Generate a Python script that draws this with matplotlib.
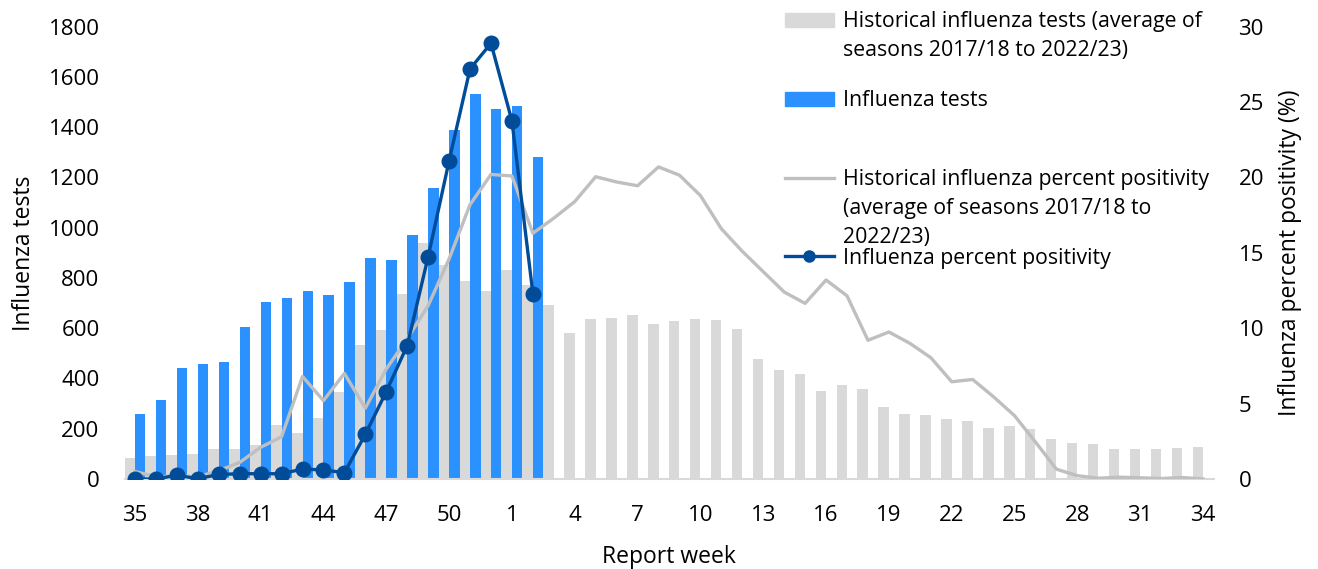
import matplotlib
matplotlib.use("Agg")
import matplotlib.pyplot as plt
from matplotlib.patches import Patch
from matplotlib.lines import Line2D
import numpy as np

plt.rcParams["font.family"] = ["Open Sans", "DejaVu Sans"]
plt.rcParams["font.size"] = 16

# report weeks: 35..52 then 1..34
weeks = list(range(35, 53)) + list(range(1, 35))

# current season (weeks 35 to 2)
tests = [257, 314, 442, 458, 464, 606, 706, 720, 748, 732,
         784, 880, 871, 971, 1157, 1388, 1531, 1471, 1483, 1283]
positivity = [0.0, 0.0, 0.25, 0.02, 0.3, 0.35, 0.35, 0.35, 0.66, 0.6,
              0.42, 2.96, 5.8, 8.85, 14.75, 21.1, 27.2, 28.9, 23.75, 12.3]

# historical average 2017/18 to 2022/23
hist_tests = [83, 92, 95, 98, 119, 119, 135, 215, 182, 244,
              346, 533, 593, 735, 940, 852, 788, 747, 832, 772,
              692, 582, 637, 641, 651, 615, 630, 637, 633, 598,
              476, 432, 417, 350, 373, 358, 288, 260, 253, 238,
              232, 203, 212, 199, 159, 144, 139, 121, 121, 118,
              125, 129]
hist_positivity = [0.5, 0.15, 0.2, 0.15, 0.55, 1.1, 2.1, 2.8, 6.8, 5.2,
                   7.0, 4.7, 7.3, 9.3, 11.5, 14.6, 18.2, 20.2, 20.1, 16.3,
                   17.3, 18.4, 20.05, 19.7, 19.45, 20.7, 20.15, 18.8, 16.6, 15.1,
                   13.75, 12.4, 11.65, 13.2, 12.15, 9.2, 9.75, 9.0, 8.05, 6.45,
                   6.6, 5.45, 4.2, 2.45, 0.65, 0.22, 0.05, 0.12, 0.08, 0.03,
                   0.1, 0.0]

BLUE = "#2B91FF"
DARK = "#004C99"
GREY_BAR = "#D9D9D9"
GREY_LINE = "#BFBFBF"

W, H = 1318, 569
fig = plt.figure(figsize=(W / 100, H / 100), dpi=100)
ax = fig.add_axes([124.5 / W, 90 / H, (1213.5 - 124.5) / W, (479 - 26.7) / H])

x = np.arange(len(weeks))
xc = np.arange(len(tests))
w = 0.5
ax.bar(x - w / 2, hist_tests, width=w, color=GREY_BAR, zorder=1)
ax.bar(xc + w / 2, tests, width=w, color=BLUE, zorder=2)

ax.set_xlim(-0.5, len(weeks) - 0.5)
ax.set_ylim(0, 1800)
ax.set_yticks(range(0, 1801, 200))
ax.set_xticks(x[::3])
ax.set_xticklabels([str(wk) for wk in weeks[::3]])
ax.tick_params(axis="both", length=0, labelsize=16)
ax.tick_params(axis="y", pad=18)
ax.tick_params(axis="x", pad=18.5)
for s in ["top", "left", "right"]:
    ax.spines[s].set_visible(False)
ax.spines["bottom"].set_color(GREY_BAR)
ax.spines["bottom"].set_linewidth(1.5)
ax.set_xlabel("Report week", fontsize=16.5, labelpad=14)
ax.set_ylabel("Influenza tests", fontsize=16.5, labelpad=9)

ax2 = ax.twinx()
ax2.plot(x, hist_positivity, color=GREY_LINE, lw=2.4, zorder=3)
ax2.plot(xc, positivity, color=DARK, lw=2.4, marker="o", markersize=10.5, zorder=4)
ax2.set_ylim(0, 30)
ax2.set_yticks(range(0, 31, 5))
ax2.tick_params(axis="y", length=0, labelsize=16, pad=18)
for s in ["top", "left", "right", "bottom"]:
    ax2.spines[s].set_visible(False)
ax2.set_ylabel("Influenza percent positivity (%)", fontsize=16.5, labelpad=10)

# legend entries, first line next to the key, other lines as text
entries = [
    (Patch(color=GREY_BAR), ["Historical influenza tests (average of",
                             "seasons 2017/18 to 2022/23)"], 22),
    (Patch(color=BLUE), ["Influenza tests"], 101),
    (Line2D([], [], color=GREY_LINE, lw=2.4), ["Historical influenza percent positivity",
                                              "(average of seasons 2017/18 to",
                                              "2022/23)"], 180),
    (Line2D([], [], color=DARK, lw=2.4, marker="o", markersize=8), ["Influenza percent positivity"], 258),
]
for handle, lines, ypx in entries:
    fig.legend([handle], [lines[0]], loc="center left",
               bbox_to_anchor=(785 / W, 1 - ypx / H), frameon=False,
               borderpad=0, borderaxespad=0, handlelength=2.3,
               handletextpad=0.45, handleheight=0.6, fontsize=15.3, numpoints=1)
    for i, ln in enumerate(lines[1:], start=1):
        fig.text(843 / W, 1 - (ypx + 28.5 * i) / H, ln, va="center", ha="left", fontsize=15.3)

fig.savefig("out.png", dpi=100)
